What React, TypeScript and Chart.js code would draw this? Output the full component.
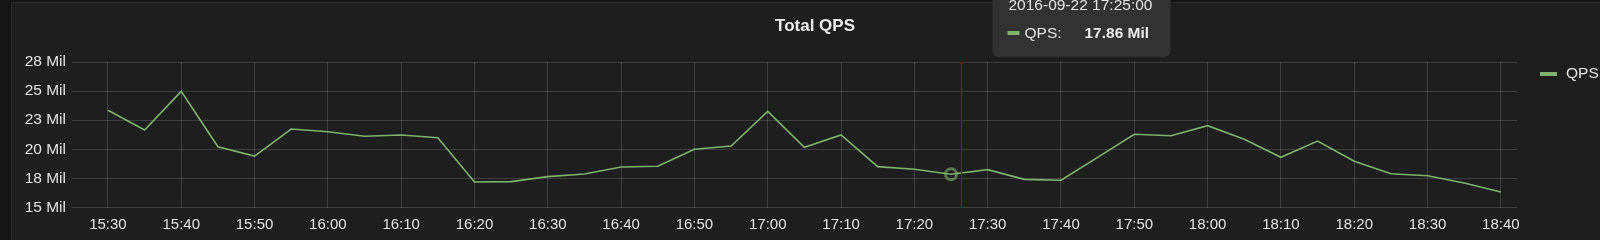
import React, { useEffect, useRef } from 'react';
import { Chart, registerables } from 'chart.js';

Chart.register(...registerables);

const times = [
  '15:30', '15:35', '15:40', '15:45', '15:50', '15:55', '16:00', '16:05', '16:10', '16:15',
  '16:20', '16:25', '16:30', '16:35', '16:40', '16:45', '16:50', '16:55', '17:00', '17:05',
  '17:10', '17:15', '17:20', '17:25', '17:30', '17:35', '17:40', '17:45', '17:50', '17:55',
  '18:00', '18:05', '18:10', '18:15', '18:20', '18:25', '18:30', '18:35', '18:40',
];
const qps = [
  23.35, 21.66, 24.98, 20.22, 19.42, 21.74, 21.51, 21.12, 21.23, 21.0,
  17.19, 17.22, 17.65, 17.88, 18.48, 18.54, 20.0, 20.28, 23.26, 20.17,
  21.23, 18.51, 18.28, 17.86, 18.25, 17.42, 17.34, 19.31, 21.29, 21.17,
  22.03, 20.86, 19.31, 20.71, 18.97, 17.9, 17.73, 17.1, 16.33,
];
const xTickLabels = [
  '15:30', '15:40', '15:50', '16:00', '16:10', '16:20', '16:30', '16:40', '16:50', '17:00',
  '17:10', '17:20', '17:30', '17:40', '17:50', '18:00', '18:10', '18:20', '18:30', '18:40',
];
const yTickValues = [15, 17.5, 20, 22.5, 25, 27.5];
const yTickLabels = ['15 Mil', '18 Mil', '20 Mil', '23 Mil', '25 Mil', '28 Mil'];
const seriesName = 'QPS';
const title = 'Total QPS';
const hoverIndex = 23;
const hoverDate = '2016-09-22';
const cursorTime = '17:26:18';
const rangeStart = '15:25:06';
const rangeEnd = '18:42:12';

const toMin = (s: string) => {
  const p = s.split(':').map(Number);
  return p[0] * 60 + p[1] + (p[2] || 0) / 60;
};

const FONT = '"Liberation Sans", Arial, Helvetica, sans-serif';
const GREEN = '#7eb26d';
const TEXT = '#e2e3e4';

const decor = {
  id: 'grafanaDecor',
  beforeDraw(chart: any) {
    const { ctx, width, height } = chart;
    ctx.save();
    ctx.fillStyle = '#141414';
    ctx.fillRect(0, 0, width, height);
    ctx.fillStyle = '#1f1e1f';
    ctx.fillRect(11, 2, width - 11, height - 2);
    ctx.strokeStyle = '#2a2a2a';
    ctx.lineWidth = 1;
    ctx.beginPath();
    ctx.moveTo(11.5, height);
    ctx.lineTo(11.5, 2.5);
    ctx.lineTo(width, 2.5);
    ctx.stroke();
    ctx.restore();
  },
  afterDraw(chart: any) {
    const { ctx, chartArea } = chart;
    const xs = chart.scales.x;
    const ys = chart.scales.y;
    ctx.save();
    // title
    ctx.font = `bold 17px ${FONT}`;
    ctx.fillStyle = '#ececec';
    ctx.textAlign = 'center';
    ctx.textBaseline = 'middle';
    ctx.fillText(title, 815, 26);

    // legend
    ctx.fillStyle = GREEN;
    ctx.fillRect(1540, 72, 17, 4);
    ctx.font = `15.5px ${FONT}`;
    ctx.fillStyle = TEXT;
    ctx.textAlign = 'left';
    ctx.fillText(seriesName, 1566, 74);

    // crosshair
    const cx = Math.round(xs.getPixelForValue(toMin(cursorTime))) + 0.5;
    ctx.strokeStyle = '#8b0c0c';
    ctx.lineWidth = 1.5;
    ctx.beginPath();
    ctx.moveTo(cx, chartArea.top);
    ctx.lineTo(cx, chartArea.bottom);
    ctx.stroke();

    // hover marker
    const hx = xs.getPixelForValue(toMin(times[hoverIndex]));
    const hy = ys.getPixelForValue(qps[hoverIndex]);
    ctx.strokeStyle = 'rgba(126,178,109,0.6)';
    ctx.lineWidth = 3;
    ctx.beginPath();
    ctx.arc(hx, hy, 5.5, 0, Math.PI * 2);
    ctx.stroke();

    // tooltip
    const bx = cx + 31;
    const bw = 178;
    const by = -12;
    const bh = 69;
    ctx.fillStyle = '#323232';
    ctx.beginPath();
    (ctx as any).roundRect(bx, by, bw, bh, 6);
    ctx.fill();
    ctx.font = `15.5px ${FONT}`;
    ctx.fillStyle = TEXT;
    ctx.textAlign = 'left';
    ctx.textBaseline = 'middle';
    ctx.fillText(`${hoverDate} ${times[hoverIndex]}:00`, bx + 16, 6);
    ctx.fillStyle = GREEN;
    ctx.fillRect(bx + 15, 31, 12, 4);
    ctx.fillStyle = TEXT;
    ctx.fillText(`${seriesName}:`, bx + 32, 34);
    ctx.font = `bold 15.5px ${FONT}`;
    ctx.fillStyle = '#ececec';
    ctx.fillText(`${qps[hoverIndex].toFixed(2)} Mil`, bx + 92, 34);
    ctx.restore();
  },
};

export default function App() {
  const ref = useRef<HTMLCanvasElement>(null);
  useEffect(() => {
    if (!ref.current) return;
    const chart = new Chart(ref.current, {
      type: 'line',
      data: {
        datasets: [
          {
            label: seriesName,
            data: times.map((t, i) => ({ x: toMin(t), y: qps[i] })),
            borderColor: GREEN,
            borderWidth: 1.6,
            pointRadius: 0,
            tension: 0,
            fill: false,
          },
        ],
      },
      options: {
        animation: false,
        responsive: false,
        devicePixelRatio: 1,
        layout: { padding: { top: 62, right: 83, bottom: 0, left: 0 } },
        plugins: { legend: { display: false }, tooltip: { enabled: false }, title: { display: false } },
        scales: {
          x: {
            type: 'linear',
            min: toMin(rangeStart),
            max: toMin(rangeEnd),
            afterBuildTicks: (s: any) => {
              s.ticks = xTickLabels.map((l) => ({ value: toMin(l) }));
            },
            afterFit: (s: any) => {
              s.height = 32.5;
            },
            ticks: {
              callback: (_v: any, i: number) => xTickLabels[i],
              autoSkip: false,
              maxRotation: 0,
              color: TEXT,
              font: { family: FONT, size: 15 },
              padding: 8,
            },
            grid: { color: 'rgba(255,255,255,0.14)', drawTicks: false, lineWidth: 1 },
            border: { display: false },
          },
          y: {
            type: 'linear',
            min: 15,
            max: 27.5,
            afterBuildTicks: (s: any) => {
              s.ticks = yTickValues.map((v) => ({ value: v }));
            },
            afterFit: (s: any) => {
              s.width = 72;
            },
            ticks: {
              callback: (_v: any, i: number) => yTickLabels[i],
              color: TEXT,
              font: { family: FONT, size: 15.5 },
              padding: 6,
            },
            grid: { color: 'rgba(255,255,255,0.14)', drawTicks: false, lineWidth: 1 },
            border: { display: false },
          },
        },
      },
      plugins: [decor],
    } as any);
    return () => chart.destroy();
  }, []);
  return (
    <div style={{ position: 'fixed', left: 0, top: 0, width: 1600, height: 240 }}>
      <canvas ref={ref} width={1600} height={240} style={{ width: 1600, height: 240, display: 'block' }} />
    </div>
  );
}
